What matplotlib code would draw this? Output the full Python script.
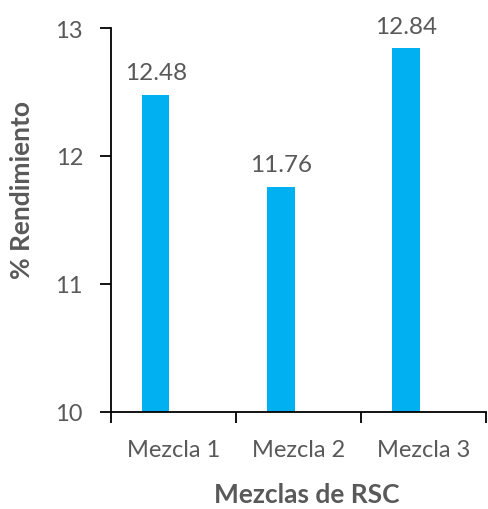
import numpy as np
import matplotlib
matplotlib.use('Agg')
import matplotlib.pyplot as plt

# data
categories = ['Mezcla 1', 'Mezcla 2', 'Mezcla 3']
rendimiento = [12.48, 11.76, 12.84]
y_ticks = [10, 11, 12, 13]

plt.rcParams['font.family'] = ['Lato', 'DejaVu Sans']
text_color = '#595959'
bar_color = '#00B0F0'

fig = plt.figure(figsize=(4.88, 5.10), dpi=100)
ax = fig.add_axes([0.2268, 0.1908, 0.7691, 0.7523])

x = np.arange(len(categories))
offset = -0.14  # bars sit left of the category centre
bars = ax.bar(x + offset, rendimiento, width=0.22, color=bar_color, zorder=2)

# data labels
for xi, v in zip(x, rendimiento):
	ax.annotate('%.2f' % v, (xi + offset, v), xytext=(0, 8), textcoords='offset points',
		ha='center', va='bottom', fontsize=17.5, color=text_color)

ax.set_xlim(-0.5, len(categories) - 0.5)
ax.set_ylim(10, 13)

# category labels without marks, boundary tick marks
ax.set_xticks(x)
ax.set_xticklabels(categories)
ax.tick_params(axis='x', which='major', length=0, pad=20, labelsize=17, labelcolor=text_color)
ax.set_xticks(np.arange(-0.5, len(categories), 1), minor=True)
ax.tick_params(axis='x', which='minor', length=8, width=1.3, direction='out', color='black')

ax.set_yticks(y_ticks)
ax.tick_params(axis='y', length=8, width=1.3, direction='out', color='black',
	pad=12, labelsize=17, labelcolor=text_color)

for side in ['top', 'right']:
	ax.spines[side].set_visible(False)
for side in ['left', 'bottom']:
	ax.spines[side].set_linewidth(1.3)
	ax.spines[side].set_color('black')

ax.set_xlabel('Mezclas de RSC', fontsize=19, fontweight='bold', color=text_color, va='center')
ax.xaxis.set_label_coords(0.522, -0.215)
ax.set_ylabel('% Rendimiento', fontsize=19, fontweight='bold', color=text_color, va='center')
ax.yaxis.set_label_coords(-0.236, 0.58)

fig.savefig('out.png', dpi=100)
